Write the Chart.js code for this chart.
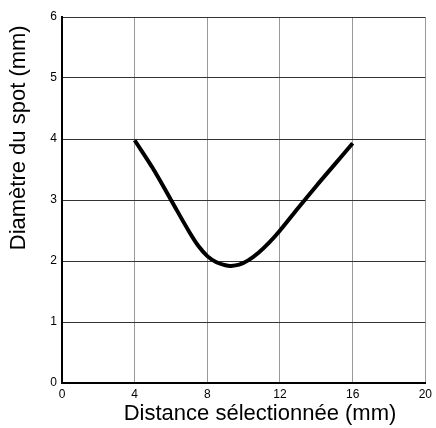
<!DOCTYPE html>
<html>
<head>
<meta charset="utf-8">
<script src="https://cdn.jsdelivr.net/npm/chart.js@4/dist/chart.umd.min.js"></script>
<style>
  html, body { margin: 0; padding: 0; background: #fff; }
  #wrap { width: 436px; height: 428px; }
</style>
</head>
<body>
<div id="wrap"><canvas id="myChart" width="436" height="428"></canvas></div>
<script>
"use strict";
// distance (mm) and spot diameter (mm)
var distance = [4, 5, 6, 7, 7.5, 8, 8.5, 9, 9.3, 9.75, 10.25, 10.8, 11.4, 12, 13, 14, 15, 16];
var diameter = [3.98, 3.52, 3.0, 2.48, 2.25, 2.08, 1.98, 1.93, 1.92, 1.94, 2.01, 2.13, 2.3, 2.5, 2.87, 3.23, 3.58, 3.93];
var xTicks = [0, 4, 8, 12, 16, 20];
var yTicks = [0, 1, 2, 3, 4, 5, 6];
var xTitle = 'Distance sélectionnée (mm)';
var yTitle = 'Diamètre du spot (mm)';

var points = distance.map(function(d, i) {
  return { x: d, y: diameter[i] };
});

var tickFont = { family: "'Liberation Sans', Arial, sans-serif", size: 12 };

/* axis titles: the originals sit a bit off centre, so draw them by hand */
var axisTitles = {
  id: 'axisTitles',
  afterDraw: function(chart) {
    var c = chart.ctx;
    var area = chart.chartArea;
    c.save();
    c.fillStyle = '#000';
    c.font = "22px 'Liberation Sans', Arial, sans-serif";
    c.textAlign = 'center';
    c.textBaseline = 'middle';
    c.fillText(xTitle, area.left + area.width * 0.545, 414);
    c.translate(19, area.top + area.height * 0.33);
    c.rotate(-Math.PI / 2);
    c.fillText(yTitle, 0, 0);
    c.restore();
  }
};

var ctx = document.getElementById('myChart').getContext('2d');
var chart = new Chart(ctx, {
  type: 'line',
  data: {
    datasets: [{
      data: points,
      borderColor: '#000',
      borderWidth: 4,
      pointRadius: 0,
      tension: 0.35,
      fill: false
    }]
  },
  options: {
    responsive: false,
    animation: false,
    layout: { padding: { top: 17, right: 9, bottom: 0, left: 0 } },
    plugins: { legend: { display: false }, tooltip: { enabled: false } },
    scales: {
      x: {
        type: 'linear',
        min: 0,
        max: 20,
        afterBuildTicks: function(scale) {
          scale.ticks = xTicks.map(function(v) { return { value: v }; });
        },
        afterFit: function(scale) { scale.height = 45; },
        grid: { color: '#999', lineWidth: 1, drawTicks: false },
        border: { color: '#000', width: 2 },
        ticks: { color: '#000', font: tickFont, padding: 4, maxRotation: 0 }
      },
      y: {
        type: 'linear',
        min: 0,
        max: 6,
        afterBuildTicks: function(scale) {
          scale.ticks = yTicks.map(function(v) { return { value: v }; });
        },
        afterFit: function(scale) { scale.width = 62; },
        grid: { color: '#333', lineWidth: 1, drawTicks: false },
        border: { color: '#000', width: 2 },
        ticks: { color: '#000', font: tickFont, padding: 5 }
      }
    }
  },
  plugins: [axisTitles]
});
</script>
</body>
</html>
